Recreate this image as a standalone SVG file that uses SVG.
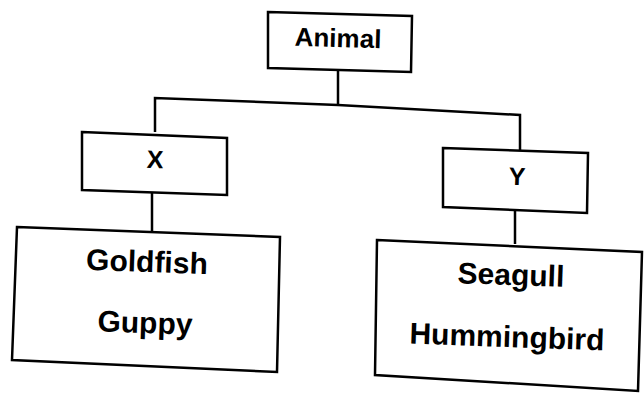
<svg xmlns="http://www.w3.org/2000/svg" width="644" height="394" viewBox="0 0 644 394">
<style>
.box{fill:#fff;stroke:#000;stroke-width:2.5;stroke-linejoin:miter}
.ln{fill:none;stroke:#000;stroke-width:2.5}
text{font-family:"Liberation Sans",Arial,sans-serif;font-weight:bold;fill:#000;text-anchor:middle}
.t1{font-size:26px}
.t2{font-size:25px}
.t3{font-size:30px}
</style>
<rect width="644" height="394" fill="#fff"/>
<g id="connectors">
<polyline class="ln" points="338,70 338,105"/>
<polyline class="ln" points="155,132 155,98 338,105 520,115 520,150"/>
<polyline class="ln" points="152,193 152,231"/>
<polyline class="ln" points="515,210 515,244"/>
</g>
<g id="animal">
<polygon class="box" points="268,12 412,16 411,72 268,68"/>
<text class="t1" x="338" y="47" transform="rotate(1.6 338 40)">Animal</text>
</g>
<g id="x">
<polygon class="box" points="82,132 227,138 227,195 82,190"/>
<text class="t2" x="155" y="168" transform="rotate(2 155 160)">X</text>
</g>
<g id="y">
<polygon class="box" points="443,148 588,153 587,213 443,207"/>
<text class="t2" x="517" y="185" transform="rotate(2 517 177)">Y</text>
</g>
<g id="fish">
<polygon class="box" points="17,227 280,237 277,372 12,360"/>
<text class="t3" x="147" y="272" transform="rotate(2 147 262)">Goldfish</text>
<text class="t3" x="145" y="333" transform="rotate(2 145 323)">Guppy</text>
</g>
<g id="birds">
<polygon class="box" points="377,240 642,252 638,391 375,375"/>
<text class="t3" x="511" y="285" transform="rotate(2 511 275)">Seagull</text>
<text class="t3" x="507" y="347" transform="rotate(2 507 337)">Hummingbird</text>
</g>
</svg>
